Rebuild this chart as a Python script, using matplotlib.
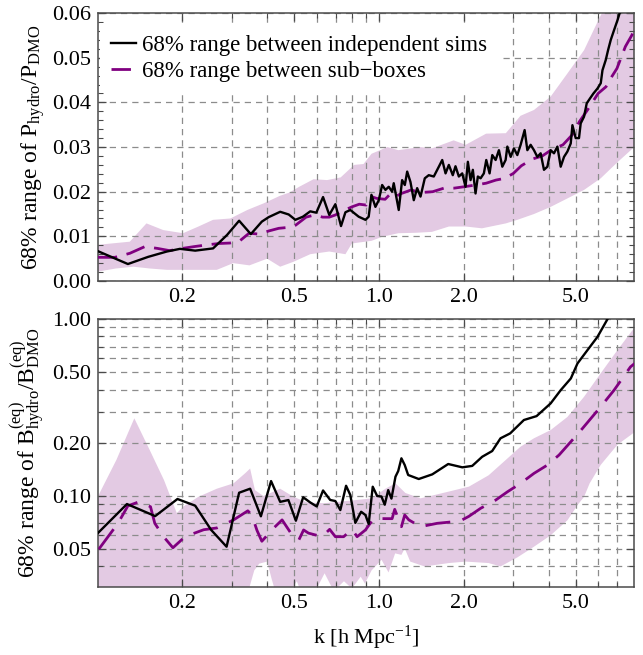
import numpy as np
import matplotlib
matplotlib.use('Agg')
import matplotlib.pyplot as plt
from matplotlib.ticker import FixedLocator, FixedFormatter, NullFormatter

plt.rcParams['font.family'] = ['Liberation Serif', 'DejaVu Serif']
plt.rcParams['mathtext.fontset'] = 'custom'
plt.rcParams['mathtext.rm'] = 'Liberation Serif'
plt.rcParams['mathtext.it'] = 'Liberation Serif:italic'
plt.rcParams['mathtext.bf'] = 'Liberation Serif:bold'

# ---------------- data: top panel (power spectrum ratio) ----------------
k_top_sims = [0.100, 0.128, 0.151, 0.176, 0.196, 0.222, 0.257, 0.288, 0.318, 0.350,
              0.383, 0.405, 0.445, 0.477, 0.504, 0.536, 0.569, 0.598, 0.632, 0.665,
              0.699, 0.732, 0.759, 0.790, 0.846, 0.894, 0.918, 0.939, 0.970, 0.997,
              1.025, 1.053, 1.082, 1.112, 1.127, 1.174, 1.207, 1.234, 1.258, 1.292,
              1.328, 1.365, 1.403, 1.453, 1.501, 1.564, 1.630, 1.676, 1.722, 1.769,
              1.827, 1.868, 1.920, 1.974, 2.028, 2.067, 2.113, 2.153, 2.201, 2.243,
              2.294, 2.356, 2.403, 2.469, 2.524, 2.594, 2.665, 2.740, 2.815, 2.855,
              2.934, 3.013, 3.098, 3.183, 3.289, 3.363, 3.455, 3.550, 3.650, 3.750,
              3.853, 3.962, 4.070, 4.182, 4.300, 4.418, 4.540, 4.668, 4.796, 4.863,
              4.995, 5.132, 5.204, 5.347, 5.467, 5.617, 5.775, 5.968, 6.132, 6.218,
              6.388, 6.510, 6.655, 6.838, 7.031, 7.182, 7.500]
top_sims = [0.0067, 0.0038, 0.0054, 0.0066, 0.0072, 0.0068, 0.0073, 0.0103, 0.0135, 0.0105,
            0.0133, 0.0143, 0.0155, 0.0149, 0.0137, 0.0144, 0.0156, 0.0153, 0.0188, 0.0148,
            0.0172, 0.0123, 0.0154, 0.0159, 0.0144, 0.0137, 0.0144, 0.0193, 0.0166, 0.0181,
            0.0215, 0.0204, 0.0211, 0.0200, 0.0219, 0.0159, 0.0226, 0.0215, 0.0245, 0.0222,
            0.0181, 0.0208, 0.0189, 0.0230, 0.0237, 0.0234, 0.0256, 0.0271, 0.0241, 0.0260,
            0.0237, 0.0257, 0.0234, 0.0241, 0.0211, 0.0267, 0.0226, 0.0249, 0.0196, 0.0234,
            0.0230, 0.0241, 0.0271, 0.0241, 0.0282, 0.0271, 0.0293, 0.0256, 0.0271, 0.0301,
            0.0278, 0.0297, 0.0282, 0.0305, 0.0338, 0.0293, 0.0305, 0.0293, 0.0278, 0.0286,
            0.0249, 0.0256, 0.0293, 0.0286, 0.0301, 0.0256, 0.0278, 0.0290, 0.0308, 0.0349,
            0.0320, 0.0320, 0.0353, 0.0368, 0.0398, 0.0409, 0.0420, 0.0431, 0.0443, 0.0472,
            0.0495, 0.0517, 0.0540, 0.0562, 0.0584, 0.0603, 0.0660]

k_top_sub = [0.100, 0.115, 0.130, 0.147, 0.163, 0.180, 0.200, 0.220, 0.245, 0.270,
             0.295, 0.320, 0.345, 0.375, 0.405, 0.440, 0.475, 0.505, 0.550, 0.590,
             0.630, 0.665, 0.700, 0.750, 0.800, 0.850, 0.900, 0.940, 0.980, 1.050,
             1.100, 1.150, 1.200, 1.300, 1.400, 1.550, 1.700, 1.850, 2.000, 2.200,
             2.400, 2.600, 2.800, 3.000, 3.200, 3.500, 3.800, 4.100, 4.500, 4.850,
             5.150, 5.500, 6.000, 6.400, 6.700, 7.000, 7.500, 7.900, 8.100]
top_sub = [0.0053, 0.0053, 0.0062, 0.0077, 0.0073, 0.0068, 0.0073, 0.0077, 0.0081, 0.0084,
           0.0085, 0.0090, 0.0107, 0.0105, 0.0112, 0.0118, 0.0120, 0.0125, 0.0143, 0.0148,
           0.0143, 0.0143, 0.0148, 0.0158, 0.0166, 0.0172, 0.0170, 0.0189, 0.0185, 0.0183,
           0.0196, 0.0190, 0.0196, 0.0204, 0.0198, 0.0200, 0.0208, 0.0208, 0.0211, 0.0215,
           0.0219, 0.0226, 0.0230, 0.0241, 0.0258, 0.0273, 0.0280, 0.0294, 0.0305, 0.0327,
           0.0357, 0.0383, 0.0420, 0.0435, 0.0457, 0.0476, 0.0525, 0.0550, 0.0566]

k_top_band_hi = [0.100, 0.116, 0.130, 0.149, 0.171, 0.201, 0.228, 0.257, 0.296, 0.340,
                 0.389, 0.445, 0.480, 0.520, 0.585, 0.653, 0.730, 0.815, 0.880, 0.940,
                 1.070, 1.170, 1.400, 1.540, 1.840, 2.030, 2.400, 2.820, 3.180, 3.550,
                 4.070, 4.670, 5.350, 5.970, 6.300, 7.030, 8.100]
top_band_hi = [0.0081, 0.0085, 0.0088, 0.0129, 0.0114, 0.0107, 0.0122, 0.0137, 0.0140, 0.0159,
               0.0174, 0.0191, 0.0198, 0.0211, 0.0228, 0.0226, 0.0232, 0.0260, 0.0262, 0.0285,
               0.0300, 0.0293, 0.0300, 0.0297, 0.0315, 0.0305, 0.0330, 0.0331, 0.0370, 0.0383,
               0.0413, 0.0465, 0.0517, 0.0580, 0.0610, 0.0680, 0.0780]
k_top_band_lo = [0.100, 0.116, 0.134, 0.153, 0.176, 0.207, 0.265, 0.303, 0.346, 0.400,
                 0.445, 0.496, 0.569, 0.665, 0.759, 0.800, 0.940, 1.025, 1.170, 1.350,
                 1.540, 1.770, 2.030, 2.320, 2.820, 3.100, 3.550, 4.070, 4.670, 5.350,
                 6.130, 7.030, 8.100]
top_band_lo = [0.0021, 0.0028, 0.0032, 0.0028, 0.0025, 0.0025, 0.0025, 0.0040, 0.0035, 0.0050,
               0.0032, 0.0043, 0.0060, 0.0066, 0.0060, 0.0084, 0.0090, 0.0099, 0.0107, 0.0108,
               0.0110, 0.0122, 0.0122, 0.0118, 0.0129, 0.0137, 0.0150, 0.0166, 0.0185, 0.0204,
               0.0230, 0.0266, 0.0301]

# ---------------- data: bottom panel (bispectrum ratio) ----------------
k_bi_sims = [0.100, 0.127, 0.160, 0.192, 0.222, 0.253, 0.287, 0.318, 0.348, 0.380,
             0.413, 0.445, 0.476, 0.506, 0.537, 0.569, 0.600, 0.632, 0.670, 0.699,
             0.728, 0.763, 0.790, 0.823, 0.863, 0.894, 0.918, 0.949, 0.984, 1.019,
             1.047, 1.077, 1.106, 1.143, 1.169, 1.200, 1.233, 1.268, 1.383, 1.545,
             1.760, 1.975, 2.142, 2.324, 2.522, 2.700, 2.922, 3.270, 3.627, 4.070,
             4.420, 4.800, 5.070, 5.500, 5.970, 6.480, 6.800]
bi_sims = [0.0616, 0.0901, 0.0770, 0.0962, 0.0882, 0.0643, 0.0517, 0.1044, 0.1100, 0.0768,
           0.1215, 0.0927, 0.0949, 0.0725, 0.0984, 0.0920, 0.0873, 0.1075, 0.0950, 0.0937,
           0.0833, 0.1143, 0.1013, 0.0705, 0.0815, 0.0781, 0.0695, 0.1129, 0.1000, 0.0994,
           0.0893, 0.1080, 0.0967, 0.1286, 0.1384, 0.1634, 0.1497, 0.1315, 0.1248, 0.1326,
           0.1517, 0.1453, 0.1480, 0.1667, 0.1796, 0.2120, 0.2260, 0.2690, 0.2830, 0.3340,
           0.3970, 0.4620, 0.5620, 0.6680, 0.7940, 1.0000, 1.2000]

k_bi_sub = [0.1008, 0.118, 0.128, 0.1405, 0.154, 0.1595, 0.172, 0.185, 0.2045, 0.238,
            0.265, 0.304, 0.3415, 0.353, 0.368, 0.383, 0.422, 0.452, 0.490, 0.518,
            0.539, 0.561, 0.627, 0.667, 0.699, 0.748, 0.801, 0.835, 0.894, 0.957,
            1.053, 1.112, 1.136, 1.200, 1.233, 1.275, 1.403, 1.608, 1.842, 1.974,
            2.085, 2.294, 2.594, 2.856, 3.183, 3.550, 3.963, 4.360, 4.800, 5.280,
            6.130, 6.840, 7.820, 8.100]
bi_sub = [0.0500, 0.0701, 0.0880, 0.0929, 0.0870, 0.0701, 0.0585, 0.0510, 0.0590, 0.0645,
          0.0660, 0.0733, 0.0825, 0.0780, 0.0640, 0.0555, 0.0659, 0.0733, 0.0604, 0.0563,
          0.0643, 0.0617, 0.0589, 0.0648, 0.0589, 0.0589, 0.0648, 0.0589, 0.0643, 0.0747,
          0.0745, 0.0745, 0.0841, 0.0671, 0.0781, 0.0733, 0.0671, 0.0701, 0.0716, 0.0733,
          0.0768, 0.0852, 0.0948, 0.1056, 0.1180, 0.1343, 0.1497, 0.1706, 0.2027, 0.2410,
          0.3197, 0.3970, 0.5370, 0.5620]

k_bi_band_hi = [0.100, 0.1165, 0.1349, 0.153, 0.172, 0.191, 0.201, 0.228, 0.265, 0.304,
                0.335, 0.348, 0.362, 0.388, 0.445, 0.496, 0.555, 0.635, 0.728, 0.835,
                0.940, 1.053, 1.143, 1.240, 1.403, 1.770, 2.085, 2.450, 2.820, 3.180,
                3.550, 4.070, 4.670, 5.350, 6.130, 7.030, 8.100]
bi_band_hi = [0.099, 0.160, 0.275, 0.182, 0.123, 0.080, 0.087, 0.099, 0.110, 0.118,
              0.135, 0.143, 0.108, 0.100, 0.110, 0.099, 0.092, 0.091, 0.093, 0.095,
              0.097, 0.110, 0.118, 0.104, 0.097, 0.106, 0.113, 0.131, 0.160, 0.190,
              0.212, 0.236, 0.280, 0.364, 0.494, 0.668, 0.900]
k_bi_band_lo = [0.100, 0.150, 0.200, 0.250, 0.310, 0.345, 0.360, 0.375, 0.400, 0.415,
                0.430, 0.490, 0.510, 0.530, 0.600, 0.640, 0.690, 0.750, 0.800, 0.860,
                0.890, 0.940, 1.020, 1.080, 1.140, 1.200, 1.233, 1.290, 1.450, 1.770,
                2.030, 2.450, 2.700, 3.100, 3.550, 4.070, 4.670, 5.100, 5.350, 5.600,
                6.130, 7.030, 8.100]
bi_band_lo = [0.022, 0.022, 0.024, 0.026, 0.028, 0.030, 0.038, 0.0415, 0.0426, 0.034,
              0.028, 0.030, 0.033, 0.028, 0.030, 0.0366, 0.029, 0.033, 0.030, 0.035,
              0.032, 0.038, 0.0436, 0.037, 0.0474, 0.0465, 0.0506, 0.0426, 0.040, 0.0418,
              0.0426, 0.0418, 0.040, 0.045, 0.0517, 0.060, 0.073, 0.090, 0.099, 0.118,
              0.150, 0.195, 0.230]

x_major = [0.2, 0.5, 1.0, 2.0, 5.0]
x_major_labels = ['0.2', '0.5', '1.0', '2.0', '5.0']
x_minor = [0.3, 0.4, 0.6, 0.7, 0.8, 0.9, 3.0, 4.0, 6.0, 7.0]
top_y_major = [0.00, 0.01, 0.02, 0.03, 0.04, 0.05, 0.06]
top_y_labels = ['0.00', '0.01', '0.02', '0.03', '0.04', '0.05', '0.06']
top_y_minor = [0.002, 0.004, 0.006, 0.008, 0.012, 0.014, 0.016, 0.018,
               0.022, 0.024, 0.026, 0.028, 0.032, 0.034, 0.036, 0.038,
               0.042, 0.044, 0.046, 0.048, 0.052, 0.054, 0.056, 0.058]
bot_y_major = [0.05, 0.10, 0.20, 0.50, 1.00]
bot_y_labels = ['0.05', '0.10', '0.20', '0.50', '1.00']
bot_y_minor = [0.04, 0.06, 0.07, 0.08, 0.09, 0.3, 0.4, 0.6, 0.7, 0.8, 0.9]

label_sims = '68% range between independent sims'
label_sub = '68% range between sub\u2212boxes'

# ---------------- styling ----------------
FILL = '#e3cae3'
PURPLE = '#800080'
GRID = dict(color='#8c8c8c', linestyle=(0, (5, 4)), linewidth=0.9)
FRAME = '#4a4a4a'
TICKFS = 16

fig = plt.figure(figsize=(6.43, 6.55), dpi=100)
ax1 = fig.add_axes([0.152, 0.571, 0.8345, 0.409])
ax2 = fig.add_axes([0.152, 0.1038, 0.8345, 0.409])


def band(ax, khi, hi, klo, lo):
    xs = np.concatenate([np.asarray(khi), np.asarray(klo)[::-1]])
    ys = np.concatenate([np.asarray(hi), np.asarray(lo)[::-1]])
    ax.fill(xs, ys, color=FILL, lw=0, zorder=1)


def style_x(ax):
    ax.set_xscale('log')
    ax.set_xlim(0.1, 8.07)
    ax.xaxis.set_major_locator(FixedLocator(x_major))
    ax.xaxis.set_major_formatter(FixedFormatter(x_major_labels))
    ax.xaxis.set_minor_locator(FixedLocator(x_minor))
    ax.xaxis.set_minor_formatter(NullFormatter())


def style_common(ax):
    for s in ax.spines.values():
        s.set_color(FRAME)
        s.set_linewidth(1.1)
    ax.tick_params(which='both', direction='in', top=True, right=True,
                   color=FRAME, labelsize=TICKFS)
    ax.tick_params(which='major', length=6, width=0.9, pad=5)
    ax.tick_params(which='minor', length=3.5, width=0.8)
    ax.set_axisbelow('line')


# ---- top panel ----
band(ax1, k_top_band_hi, top_band_hi, k_top_band_lo, top_band_lo)
ax1.plot(k_top_sims, top_sims, color='black', lw=1.7, zorder=3, label=label_sims)
ax1.plot(k_top_sub, top_sub, color=PURPLE, lw=2.0, dashes=(7, 3.5), zorder=2.8,
         label=label_sub)
style_x(ax1)
ax1.set_ylim(0.0, 0.06)
ax1.yaxis.set_major_locator(FixedLocator(top_y_major))
ax1.yaxis.set_major_formatter(FixedFormatter(top_y_labels))
ax1.yaxis.set_minor_locator(FixedLocator(top_y_minor))
ax1.grid(True, which='both', axis='x', **GRID)
ax1.grid(True, which='major', axis='y', **GRID)
style_common(ax1)
ax1.set_ylabel(r'68% range of $\mathrm{P_{hydro}/P_{DMO}}$', fontsize=17)
ax1.yaxis.set_label_coords(-0.094, 0.5)
leg = ax1.legend(loc='upper left', bbox_to_anchor=(-0.015, 1.0), fontsize=16.5,
                 frameon=True, facecolor='white', edgecolor='none', framealpha=1.0,
                 fancybox=False, handlelength=1.05, handletextpad=0.3,
                 labelspacing=0.2, borderpad=0.5, borderaxespad=0.45)
leg.set_zorder(6)

# ---- bottom panel ----
band(ax2, k_bi_band_hi, bi_band_hi, k_bi_band_lo, bi_band_lo)
ax2.plot(k_bi_sims, bi_sims, color='black', lw=1.7, zorder=3)
ax2.plot(k_bi_sub, bi_sub, color=PURPLE, lw=2.0, dashes=(9, 4.5), zorder=2.8)
style_x(ax2)
ax2.set_yscale('log')
ax2.set_ylim(0.0306, 1.0)
ax2.yaxis.set_major_locator(FixedLocator(bot_y_major))
ax2.yaxis.set_major_formatter(FixedFormatter(bot_y_labels))
ax2.yaxis.set_minor_locator(FixedLocator(bot_y_minor))
ax2.yaxis.set_minor_formatter(NullFormatter())
ax2.grid(True, which='both', axis='both', **GRID)
style_common(ax2)
ax2.set_ylabel(r'68% range of $\mathrm{B^{(eq)}_{hydro}/B^{(eq)}_{DMO}}$', fontsize=17)
ax2.yaxis.set_label_coords(-0.094, 0.5)
ax2.set_xlabel(r'k [h Mpc$^{\mathrm{-1}}$]', fontsize=16, labelpad=8)

fig.savefig('out.png', dpi=100)
